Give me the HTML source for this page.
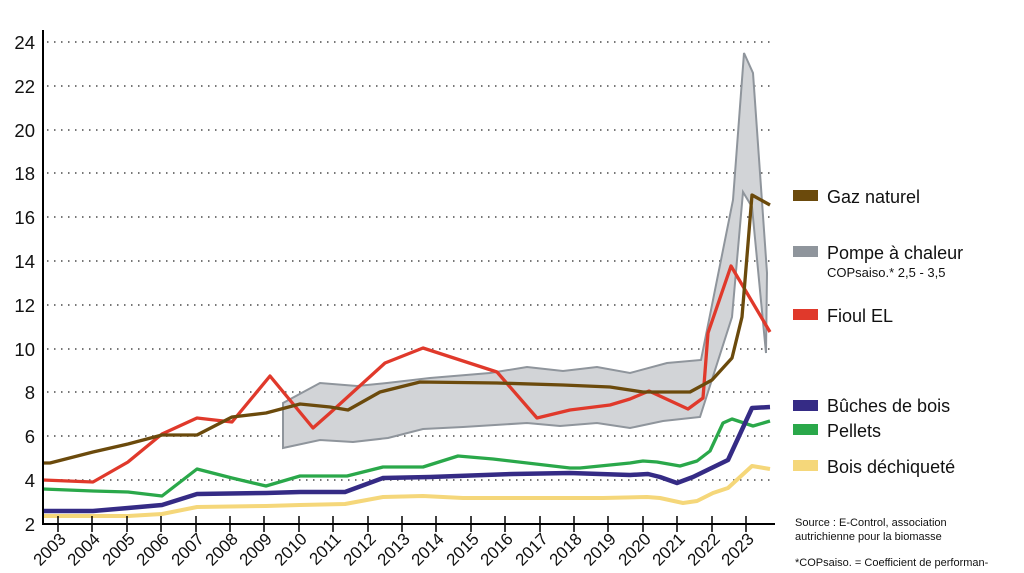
<!DOCTYPE html>
<html><head><meta charset="utf-8"><style>
html,body{margin:0;padding:0;background:#fff;}
svg{display:block;font-family:"Liberation Sans",sans-serif;}
</style></head><body>
<svg width="1024" height="573" viewBox="0 0 1024 573" xmlns="http://www.w3.org/2000/svg">
<g stroke="#777" stroke-width="2" stroke-dasharray="1.5 5.5">
<line x1="47" x2="775" y1="42" y2="42"/><line x1="47" x2="775" y1="86" y2="86"/>
<line x1="47" x2="775" y1="130" y2="130"/><line x1="47" x2="775" y1="173" y2="173"/>
<line x1="47" x2="775" y1="217" y2="217"/><line x1="47" x2="775" y1="261" y2="261"/>
<line x1="47" x2="775" y1="305" y2="305"/><line x1="47" x2="775" y1="349" y2="349"/>
<line x1="47" x2="775" y1="392" y2="392"/><line x1="47" x2="775" y1="436" y2="436"/>
<line x1="47" x2="775" y1="480" y2="480"/>
</g>
<polygon fill="#d2d4d7" stroke="#8f959c" stroke-width="2" points="283,403 320,383 357,386 387,383 430,378 490,373 527,367 563,371 597,367 630,373 667,363 701,360 733,200 744,53 753,73 767,273 766,353 752,207 743,192 732,317 700,417 663,421 630,428 597,423 560,426 527,423 463,427 423,429 388,438 353,442 320,440 283,448"/>
<g fill="none" stroke-linejoin="round">
<polyline stroke="#f5d77a" stroke-width="4" points="43,516 93,516 128,516 162,514 197,507 266,506 300,505 345,504 383,497 423,496 463,498 530,498 603,498 647,497 660,498 683,503 697,501 713,493 728,488 752,466 770,469"/>
<polyline stroke="#2aa84a" stroke-width="3.3" points="43,489 93,491 128,492 162,496 197,469 232,478 266,486 300,476 347,476 383,467 423,467 458,456 493,459 570,468 580,468 630,463 643,461 657,462 680,466 697,461 710,451 723,423 732,419 753,426 770,421"/>
<polyline stroke="#352b85" stroke-width="4.5" points="43,511 93,511 128,508 162,505 197,494 266,493 300,492 345,492 383,478 430,477 513,474 570,473 630,475 648,474 660,477 677,483 693,477 728,460 752,408 770,407"/>
<polyline stroke="#e0392b" stroke-width="3.3" points="43,480 93,482 128,462 162,434 197,418 232,422 270,376 313,428 330,413 385,363 423,348 497,372 537,418 570,410 610,405 630,399 649,391 688,409 703,398 708,333 731,266 770,332"/>
<polyline stroke="#6b4a0c" stroke-width="3.3" points="43,463 50,463 93,452 128,444 162,435 197,435 232,417 266,413 300,404 330,407 348,410 380,392 420,382 497,383 563,385 610,387 643,392 690,392 712,380 732,358 742,317 752,195 770,205"/>
</g>
<line x1="43" y1="30" x2="43" y2="525" stroke="#000" stroke-width="2"/>
<line x1="42" y1="524" x2="775" y2="524" stroke="#000" stroke-width="2"/>
<g stroke="#000" stroke-width="1.5">
<line x1="58" x2="58" y1="516" y2="532"/><line x1="92" x2="92" y1="516" y2="532"/><line x1="127" x2="127" y1="516" y2="532"/><line x1="161" x2="161" y1="516" y2="532"/><line x1="196" x2="196" y1="516" y2="532"/><line x1="230" x2="230" y1="516" y2="532"/><line x1="264" x2="264" y1="516" y2="532"/><line x1="299" x2="299" y1="516" y2="532"/><line x1="333" x2="333" y1="516" y2="532"/><line x1="368" x2="368" y1="516" y2="532"/><line x1="402" x2="402" y1="516" y2="532"/><line x1="436" x2="436" y1="516" y2="532"/><line x1="471" x2="471" y1="516" y2="532"/><line x1="505" x2="505" y1="516" y2="532"/><line x1="540" x2="540" y1="516" y2="532"/><line x1="574" x2="574" y1="516" y2="532"/><line x1="608" x2="608" y1="516" y2="532"/><line x1="643" x2="643" y1="516" y2="532"/><line x1="677" x2="677" y1="516" y2="532"/><line x1="712" x2="712" y1="516" y2="532"/><line x1="746" x2="746" y1="516" y2="532"/>
</g>
<g font-size="18.5" text-anchor="end" fill="#111">
<text x="35" y="49">24</text><text x="35" y="93">22</text><text x="35" y="137">20</text><text x="35" y="180">18</text><text x="35" y="224">16</text><text x="35" y="268">14</text><text x="35" y="312">12</text><text x="35" y="356">10</text><text x="35" y="399">8</text><text x="35" y="443">6</text><text x="35" y="487">4</text><text x="35" y="531">2</text>
</g>
<g font-size="17" text-anchor="end" fill="#111">
<text transform="translate(67,540) rotate(-45)">2003</text><text transform="translate(101,540) rotate(-45)">2004</text><text transform="translate(136,540) rotate(-45)">2005</text><text transform="translate(170,540) rotate(-45)">2006</text><text transform="translate(205,540) rotate(-45)">2007</text><text transform="translate(239,540) rotate(-45)">2008</text><text transform="translate(273,540) rotate(-45)">2009</text><text transform="translate(308,540) rotate(-45)">2010</text><text transform="translate(342,540) rotate(-45)">2011</text><text transform="translate(377,540) rotate(-45)">2012</text><text transform="translate(411,540) rotate(-45)">2013</text><text transform="translate(445,540) rotate(-45)">2014</text><text transform="translate(480,540) rotate(-45)">2015</text><text transform="translate(514,540) rotate(-45)">2016</text><text transform="translate(549,540) rotate(-45)">2017</text><text transform="translate(583,540) rotate(-45)">2018</text><text transform="translate(617,540) rotate(-45)">2019</text><text transform="translate(652,540) rotate(-45)">2020</text><text transform="translate(686,540) rotate(-45)">2021</text><text transform="translate(721,540) rotate(-45)">2022</text><text transform="translate(755,540) rotate(-45)">2023</text>
</g>
<rect x="793" y="190" width="25" height="11" fill="#6b4a0c"/>
<rect x="793" y="246" width="25" height="11" fill="#8f959c"/>
<rect x="793" y="309" width="25" height="11" fill="#e0392b"/>
<rect x="793" y="400" width="25" height="11" fill="#352b85"/>
<rect x="793" y="424" width="25" height="11" fill="#2aa84a"/>
<rect x="793" y="460" width="25" height="11" fill="#f5d77a"/>
<g font-size="18" fill="#111">
<text x="827" y="203">Gaz naturel</text>
<text x="827" y="259">Pompe à chaleur</text>
<text x="827" y="322">Fioul EL</text>
<text x="827" y="412">Bûches de bois</text>
<text x="827" y="437">Pellets</text>
<text x="827" y="473">Bois déchiqueté</text>
</g>
<text x="827" y="277" font-size="13" fill="#111">COPsaiso.* 2,5 - 3,5</text>
<g font-size="11" fill="#111">
<text x="795" y="526">Source : E-Control, association</text>
<text x="795" y="540">autrichienne pour la biomasse</text>
<text x="795" y="566">*COPsaiso. = Coefficient de performan-</text>
</g>
</svg>
</body></html>
